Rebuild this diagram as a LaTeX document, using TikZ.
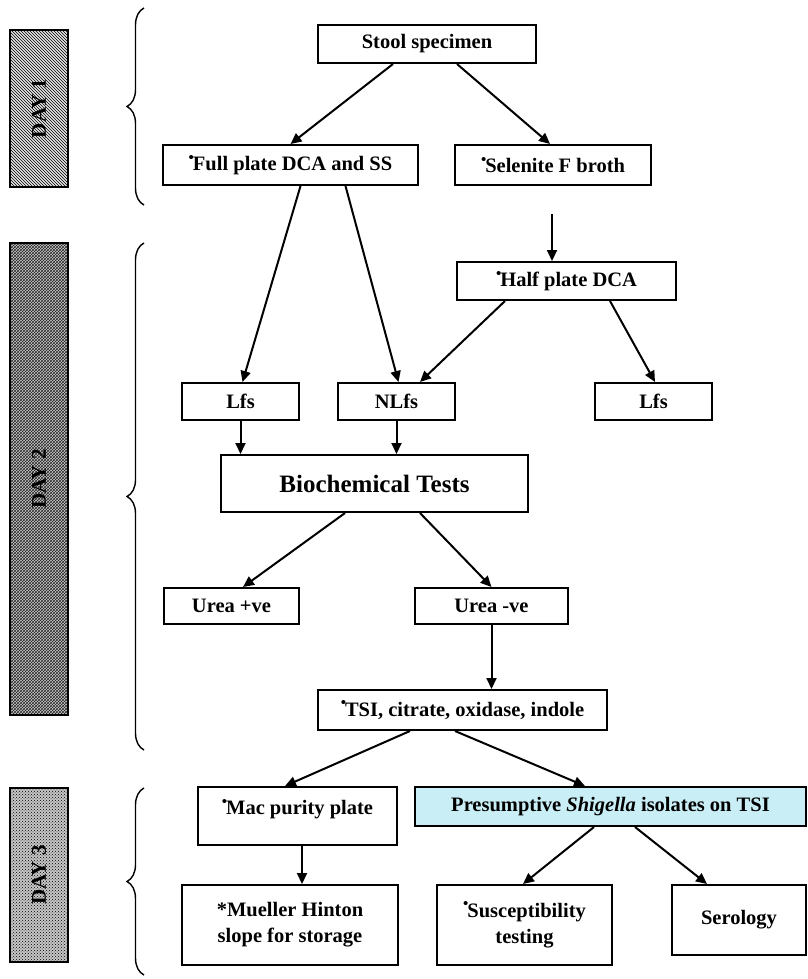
\documentclass[tikz,border=0pt]{standalone}
\usepackage{fontspec}
\setmainfont{Liberation Serif}
\usetikzlibrary{arrows.meta,decorations.pathreplacing,patterns,calc}
\definecolor{shigfill}{HTML}{C9EEF5}
\newcommand\dotmk{\raisebox{0.42em}{\fontsize{15}{15}\selectfont •}\kern-1pt}
\begin{document}
\begin{tikzpicture}[x=1pt,y=-1pt,
  box/.style={draw,line width=2pt,align=center,inner sep=0pt,
    font=\fontsize{20.5}{26}\selectfont\bfseries},
  link/.style={line width=2pt,-{Triangle[length=11pt,width=10pt]}},
  daybox/.style={draw,line width=1.8pt,rotate=90,minimum height=58pt,inner sep=0pt,
    font=\fontsize{21}{21}\selectfont\bfseries},
  dbrace/.style={decorate,decoration={brace,amplitude=17pt},line width=1.4pt}]
\useasboundingbox (0,0) rectangle (807,979);

% day markers
\node[daybox,minimum width=157pt,preaction={fill=gray!20},pattern=north west lines] (day1) at (39,108.5) {DAY 1};
\node[daybox,minimum width=472pt,preaction={fill=gray!40},pattern color=black!85,pattern=crosshatch] (day2) at (39,479) {DAY 2};
\node[daybox,minimum width=174pt,preaction={fill=gray!45},pattern=crosshatch dots] (day3) at (39,875) {DAY 3};

% braces
\draw[dbrace] (144,205) -- (144,8);
\draw[dbrace] (144,750) -- (144,243);
\draw[dbrace] (144,975) -- (144,788);

% boxes
\node[box,minimum width=218pt,minimum height=38pt] (stool) at (427,44) {Stool specimen};
\node[box,minimum width=255pt,minimum height=40pt] (full) at (290.5,165) {\dotmk Full plate DCA and SS};
\node[box,minimum width=196pt,minimum height=40pt] (selen) at (553,165) {\dotmk Selenite F broth};
\node[box,minimum width=219pt,minimum height=38pt] (half) at (566.5,281) {\dotmk Half plate DCA};
\node[box,minimum width=117pt,minimum height=37pt] (lfsa) at (240.5,401.5) {Lfs};
\node[box,minimum width=117pt,minimum height=37pt] (nlfs) at (396.5,401.5) {NLfs};
\node[box,minimum width=117pt,minimum height=37pt] (lfsb) at (653.5,401.5) {Lfs};
\node[box,minimum width=307pt,minimum height=57pt,font=\fontsize{25}{28}\selectfont\bfseries] (bio) at (374.5,483.5) {Biochemical Tests};
\node[box,minimum width=135pt,minimum height=36pt] (ureap) at (231.5,606) {Urea +ve};
\node[box,minimum width=153pt,minimum height=36pt] (urean) at (491.5,606) {Urea -ve};
\node[box,minimum width=289pt,minimum height=40pt] (tsi) at (462.5,710) {\dotmk TSI, citrate, oxidase, indole};
\node[box,minimum width=199pt,minimum height=58pt] (mac) at (297.5,816) {};
\node[font=\fontsize{20.5}{26}\selectfont\bfseries,anchor=north,inner sep=0pt] (mact) at ([yshift=-13pt]mac.north) {\dotmk Mac purity plate};
\node[box,fill=shigfill,minimum width=391pt,minimum height=39pt] (pres) at (610.5,806.5) {Presumptive \textit{Shigella} isolates on TSI};
\node[box,minimum width=216pt,minimum height=80pt] (muel) at (290,925) {*Mueller Hinton\\slope for storage};
\node[box,minimum width=175pt,minimum height=80pt] (susc) at (524.5,925) {\dotmk Susceptibility\\testing};
\node[box,minimum width=134pt,minimum height=70pt] (sero) at (739,920) {Serology};

% connectors
\draw[link] ([xshift=-34pt]stool.south) -- (full.north);
\draw[link] ([xshift=30pt]stool.south) -- ([xshift=-3pt]selen.north);
\draw[link] ([xshift=10pt]full.south) -- ([xshift=2pt]lfsa.north);
\draw[link] ([xshift=55pt]full.south) -- ([xshift=2pt]nlfs.north);
\draw[link] ([xshift=-1pt,yshift=-28pt]selen.south) -- ([xshift=-14.5pt]half.north);
\draw[link] ([xshift=-61.5pt]half.south) -- ([xshift=23.5pt]nlfs.north);
\draw[link] ([xshift=43.5pt]half.south) -- ([xshift=1.5pt]lfsb.north);
\draw[link] (lfsa.south) -- (lfsa.south |- bio.north);
\draw[link] (nlfs.south) -- (nlfs.south |- bio.north);
\draw[link] ([xshift=-29.5pt]bio.south) -- ([xshift=11.5pt]ureap.north);
\draw[link] ([xshift=45.5pt]bio.south) -- (urean.north);
\draw[link] (urean.south) -- (urean.south |- tsi.north);
\draw[link] ([xshift=-52.5pt]tsi.south) -- ([xshift=-12.5pt]mac.north);
\draw[link] ([xshift=-7.5pt]tsi.south) -- ([xshift=-25.5pt]pres.north);
\draw[link] ([xshift=4.5pt]mac.south) -- ([xshift=12pt]muel.north);
\draw[link] ([xshift=-16.5pt]pres.south) -- ([xshift=-1.5pt]susc.north);
\draw[link] ([xshift=24.5pt]pres.south) -- ([xshift=-32pt]sero.north);
\end{tikzpicture}
\end{document}
